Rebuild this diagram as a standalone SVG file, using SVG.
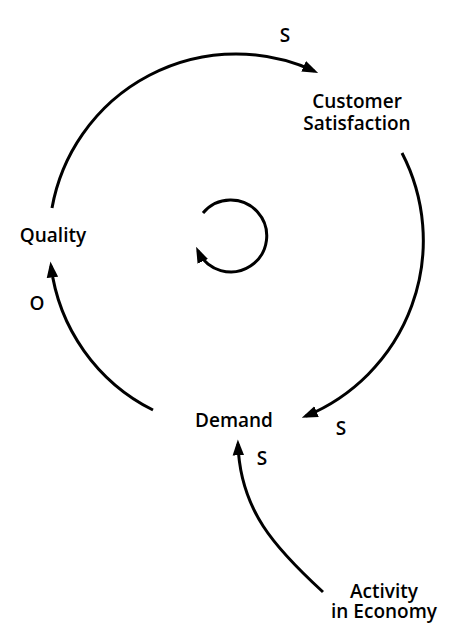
<svg xmlns="http://www.w3.org/2000/svg" width="460" height="644" viewBox="0 0 460 644">
<defs>
<style>
.lbl{font-family:"Open Sans","Liberation Sans",sans-serif;font-weight:600;font-size:19px;fill:#000;text-anchor:middle}
.c{fill:none;stroke:#000;stroke-width:3}
</style>
<marker id="ah" markerUnits="userSpaceOnUse" markerWidth="16" markerHeight="12" viewBox="0 0 14 10" refX="10" refY="5" orient="auto">
<path d="M0,0 L14,5 L0,10 z" fill="#000"/>
</marker>
</defs>
<rect width="460" height="644" fill="#fff"/>
<g id="connectors">
<path class="c" d="M52,208 A187,187 0 0 1 314,71" marker-end="url(#ah)"/>
<path class="c" d="M402,153 A190,190 0 0 1 306,416" marker-end="url(#ah)"/>
<path class="c" d="M153,410 A187,187 0 0 1 51,266" marker-end="url(#ah)"/>
<path class="c" d="M323,592 C275,548 240,510 238,444" marker-end="url(#ah)"/>
<path class="c" d="M203,213 A36,36 0 1 1 198,251" marker-end="url(#ah)"/>
</g>
<g id="customer-satisfaction"><text class="lbl" x="357" y="108">Customer</text><text class="lbl" x="357" y="130">Satisfaction</text></g>
<g id="quality"><text class="lbl" x="53" y="242">Quality</text></g>
<g id="demand"><text class="lbl" x="234" y="427">Demand</text></g>
<g id="activity"><text class="lbl" x="384" y="598">Activity</text><text class="lbl" x="384" y="618">in Economy</text></g>
<g id="link-labels">
<text class="lbl" x="285" y="42">S</text>
<text class="lbl" x="341" y="435">S</text>
<text class="lbl" x="262" y="465">S</text>
<text class="lbl" x="37" y="310">O</text>
</g>
</svg>
